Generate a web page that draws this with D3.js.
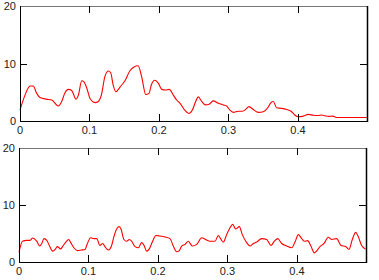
<!DOCTYPE html>
<html><head><meta charset="utf-8">
<script src="https://cdn.jsdelivr.net/npm/d3@7"></script>
<style>html,body{margin:0;padding:0;background:#fff;}svg{display:block;}</style>
</head><body>
<svg id="c" width="379" height="280"></svg>
<script>
const xTicks = [0, 0.1, 0.2, 0.3, 0.4];
const yTicks = [0, 10, 20];
const topX = [0,0.0072,0.0144,0.019,0.024,0.0288,0.038,0.0456,0.048,0.055,0.06,0.0647,0.0695,0.0744,0.0806,0.084,0.0888,0.092,0.097,0.1007,0.108,0.1127,0.117,0.1223,0.127,0.1305,0.134,0.138,0.1439,0.151,0.158,0.163,0.168,0.170,0.175,0.181,0.1856,0.189,0.194,0.199,0.204,0.2096,0.2148,0.2206,0.2254,0.230,0.237,0.243,0.248,0.2528,0.2566,0.2614,0.267,0.272,0.278,0.2853,0.2926,0.2974,0.302,0.307,0.314,0.32,0.3247,0.3295,0.3357,0.343,0.350,0.3564,0.3611,0.3645,0.3693,0.3765,0.3837,0.390,0.3957,0.4005,0.4077,0.415,0.422,0.429,0.434,0.439,0.4446,0.45,0.4555,0.47,0.485,0.499];
const topY = [1.9,4.5,6.1,6.1,4.8,4.1,3.8,3.65,3.4,2.6,3.4,4.9,5.5,5.3,3.8,4.5,7.0,6.8,5.4,3.9,3.2,3.4,4.5,7.8,8.7,8.4,6.3,5.1,5.9,7.0,8.7,9.3,9.6,9.6,7.7,4.6,4.8,6.3,7.1,6.6,5.5,5.4,5.5,4.5,3.65,3.1,1.9,1.3,1.9,3.4,4.2,3.4,2.8,2.9,3.5,3.1,2.8,2.6,1.9,1.5,1.7,1.7,2.0,2.5,2.0,1.5,1.6,2.3,3.2,3.4,2.3,2.2,2.0,1.7,1.0,0.75,0.85,1.15,1.0,0.95,1.05,0.9,0.8,0.85,0.6,0.6,0.6,0.6];
const botX = [0,0.005,0.011,0.016,0.0197,0.0255,0.030,0.0326,0.036,0.040,0.0436,0.0485,0.052,0.055,0.060,0.0637,0.0686,0.0715,0.0744,0.079,0.084,0.090,0.095,0.098,0.103,0.108,0.1118,0.1165,0.1204,0.1237,0.1285,0.1333,0.1367,0.1405,0.1439,0.1468,0.151,0.155,0.1588,0.162,0.1669,0.1717,0.1765,0.180,0.1837,0.1875,0.1923,0.197,0.2029,0.210,0.2173,0.222,0.2269,0.2307,0.234,0.239,0.2436,0.2494,0.2557,0.263,0.2686,0.2748,0.282,0.2868,0.290,0.294,0.2988,0.3036,0.3075,0.3118,0.317,0.3213,0.3276,0.3324,0.3372,0.342,0.3492,0.3564,0.3626,0.3674,0.3722,0.378,0.3852,0.3924,0.3971,0.402,0.4068,0.4105,0.4154,0.420,0.425,0.428,0.433,0.439,0.445,0.450,0.457,0.4633,0.470,0.4748,0.4796,0.4845,0.488,0.493,0.4985];
const botY = [1.7,3.65,3.8,3.8,4.2,3.65,2.8,3.2,4.1,3.8,2.9,1.9,2.2,2.7,2.3,2.9,3.65,3.95,3.4,2.5,2.0,2.1,2.2,3.1,4.25,4.1,4.1,2.9,3.25,2.7,2.1,2.9,4.5,5.8,6.2,5.8,3.95,3.65,3.95,3.65,2.7,2.5,3.4,2.9,1.9,2.3,3.65,4.65,4.55,4.4,4.1,2.8,1.8,2.0,2.8,3.1,3.65,2.8,3.1,4.25,3.95,3.65,3.65,4.65,4.1,3.5,4.8,6.0,6.6,5.8,6.2,4.8,3.4,2.8,3.25,3.5,4.1,3.95,2.9,3.65,4.1,3.25,2.8,2.5,3.5,4.8,4.1,3.65,3.75,2.8,1.6,1.9,2.7,3.25,4.35,3.95,4.1,2.9,2.7,2.2,3.95,5.2,4.5,2.9,2.3];

const svg = d3.select("#c");
const font = "Liberation Sans, Arial, sans-serif";

function panel(xs, ys, L, R, T, B) {
  const x = d3.scaleLinear().domain([0, 0.4993]).range([L, R]);
  const y = d3.scaleLinear().domain([0, 20]).range([B, T]);
  const g = svg.append("g");
  // line
  const line = d3.line().x((d,i)=>x(xs[i])).y(d=>y(d)).curve(d3.curveMonotoneX);
  g.append("path").datum(ys).attr("d", line).attr("fill","none")
    .attr("stroke","#ff0000").attr("stroke-width",1.1);
  // frame
  g.append("line").attr("x1",L).attr("x2",R).attr("y1",T+0.5).attr("y2",T+0.5).attr("stroke","#777");
  g.append("line").attr("x1",L+0.5).attr("x2",L+0.5).attr("y1",T).attr("y2",B).attr("stroke","#000");
  g.append("line").attr("x1",L).attr("x2",R+1).attr("y1",B+0.5).attr("y2",B+0.5).attr("stroke","#000");
  g.append("line").attr("x1",R+0.5).attr("x2",R+0.5).attr("y1",T).attr("y2",B+1).attr("stroke","#000").attr("stroke-width",1.5);
  // inward ticks
  xTicks.filter(v=>v>0).forEach(v=>{
    const px = Math.round(x(v))+0.5;
    g.append("line").attr("x1",px).attr("x2",px).attr("y1",T).attr("y2",T+7).attr("stroke","#000");
    g.append("line").attr("x1",px).attr("x2",px).attr("y1",B).attr("y2",B-7).attr("stroke","#000");
  });
  yTicks.filter(v=>v>0 && v<20).forEach(v=>{
    const py = Math.round(y(v))+0.5;
    g.append("line").attr("x1",L).attr("x2",L+7).attr("y1",py).attr("y2",py).attr("stroke","#000");
    g.append("line").attr("x1",R).attr("x2",R-7).attr("y1",py).attr("y2",py).attr("stroke","#000");
  });
  // labels
  g.selectAll("text.xl").data(xTicks).enter().append("text")
    .attr("x",d=>x(d)).attr("y",B+13).attr("text-anchor","middle")
    .attr("font-family",font).attr("font-size",11).attr("fill","#222").text(d=>d===0?"0":d3.format(".1f")(d));
  g.selectAll("text.yl").data(yTicks).enter().append("text")
    .attr("x",L-4).attr("y",d=>y(d)+4).attr("text-anchor","end")
    .attr("font-family",font).attr("font-size",11).attr("fill","#222").text(d=>d);
}
panel(topX, topY, 20, 367, 6, 121);
panel(botX, botY, 19, 366, 148, 262);
</script>
</body></html>
